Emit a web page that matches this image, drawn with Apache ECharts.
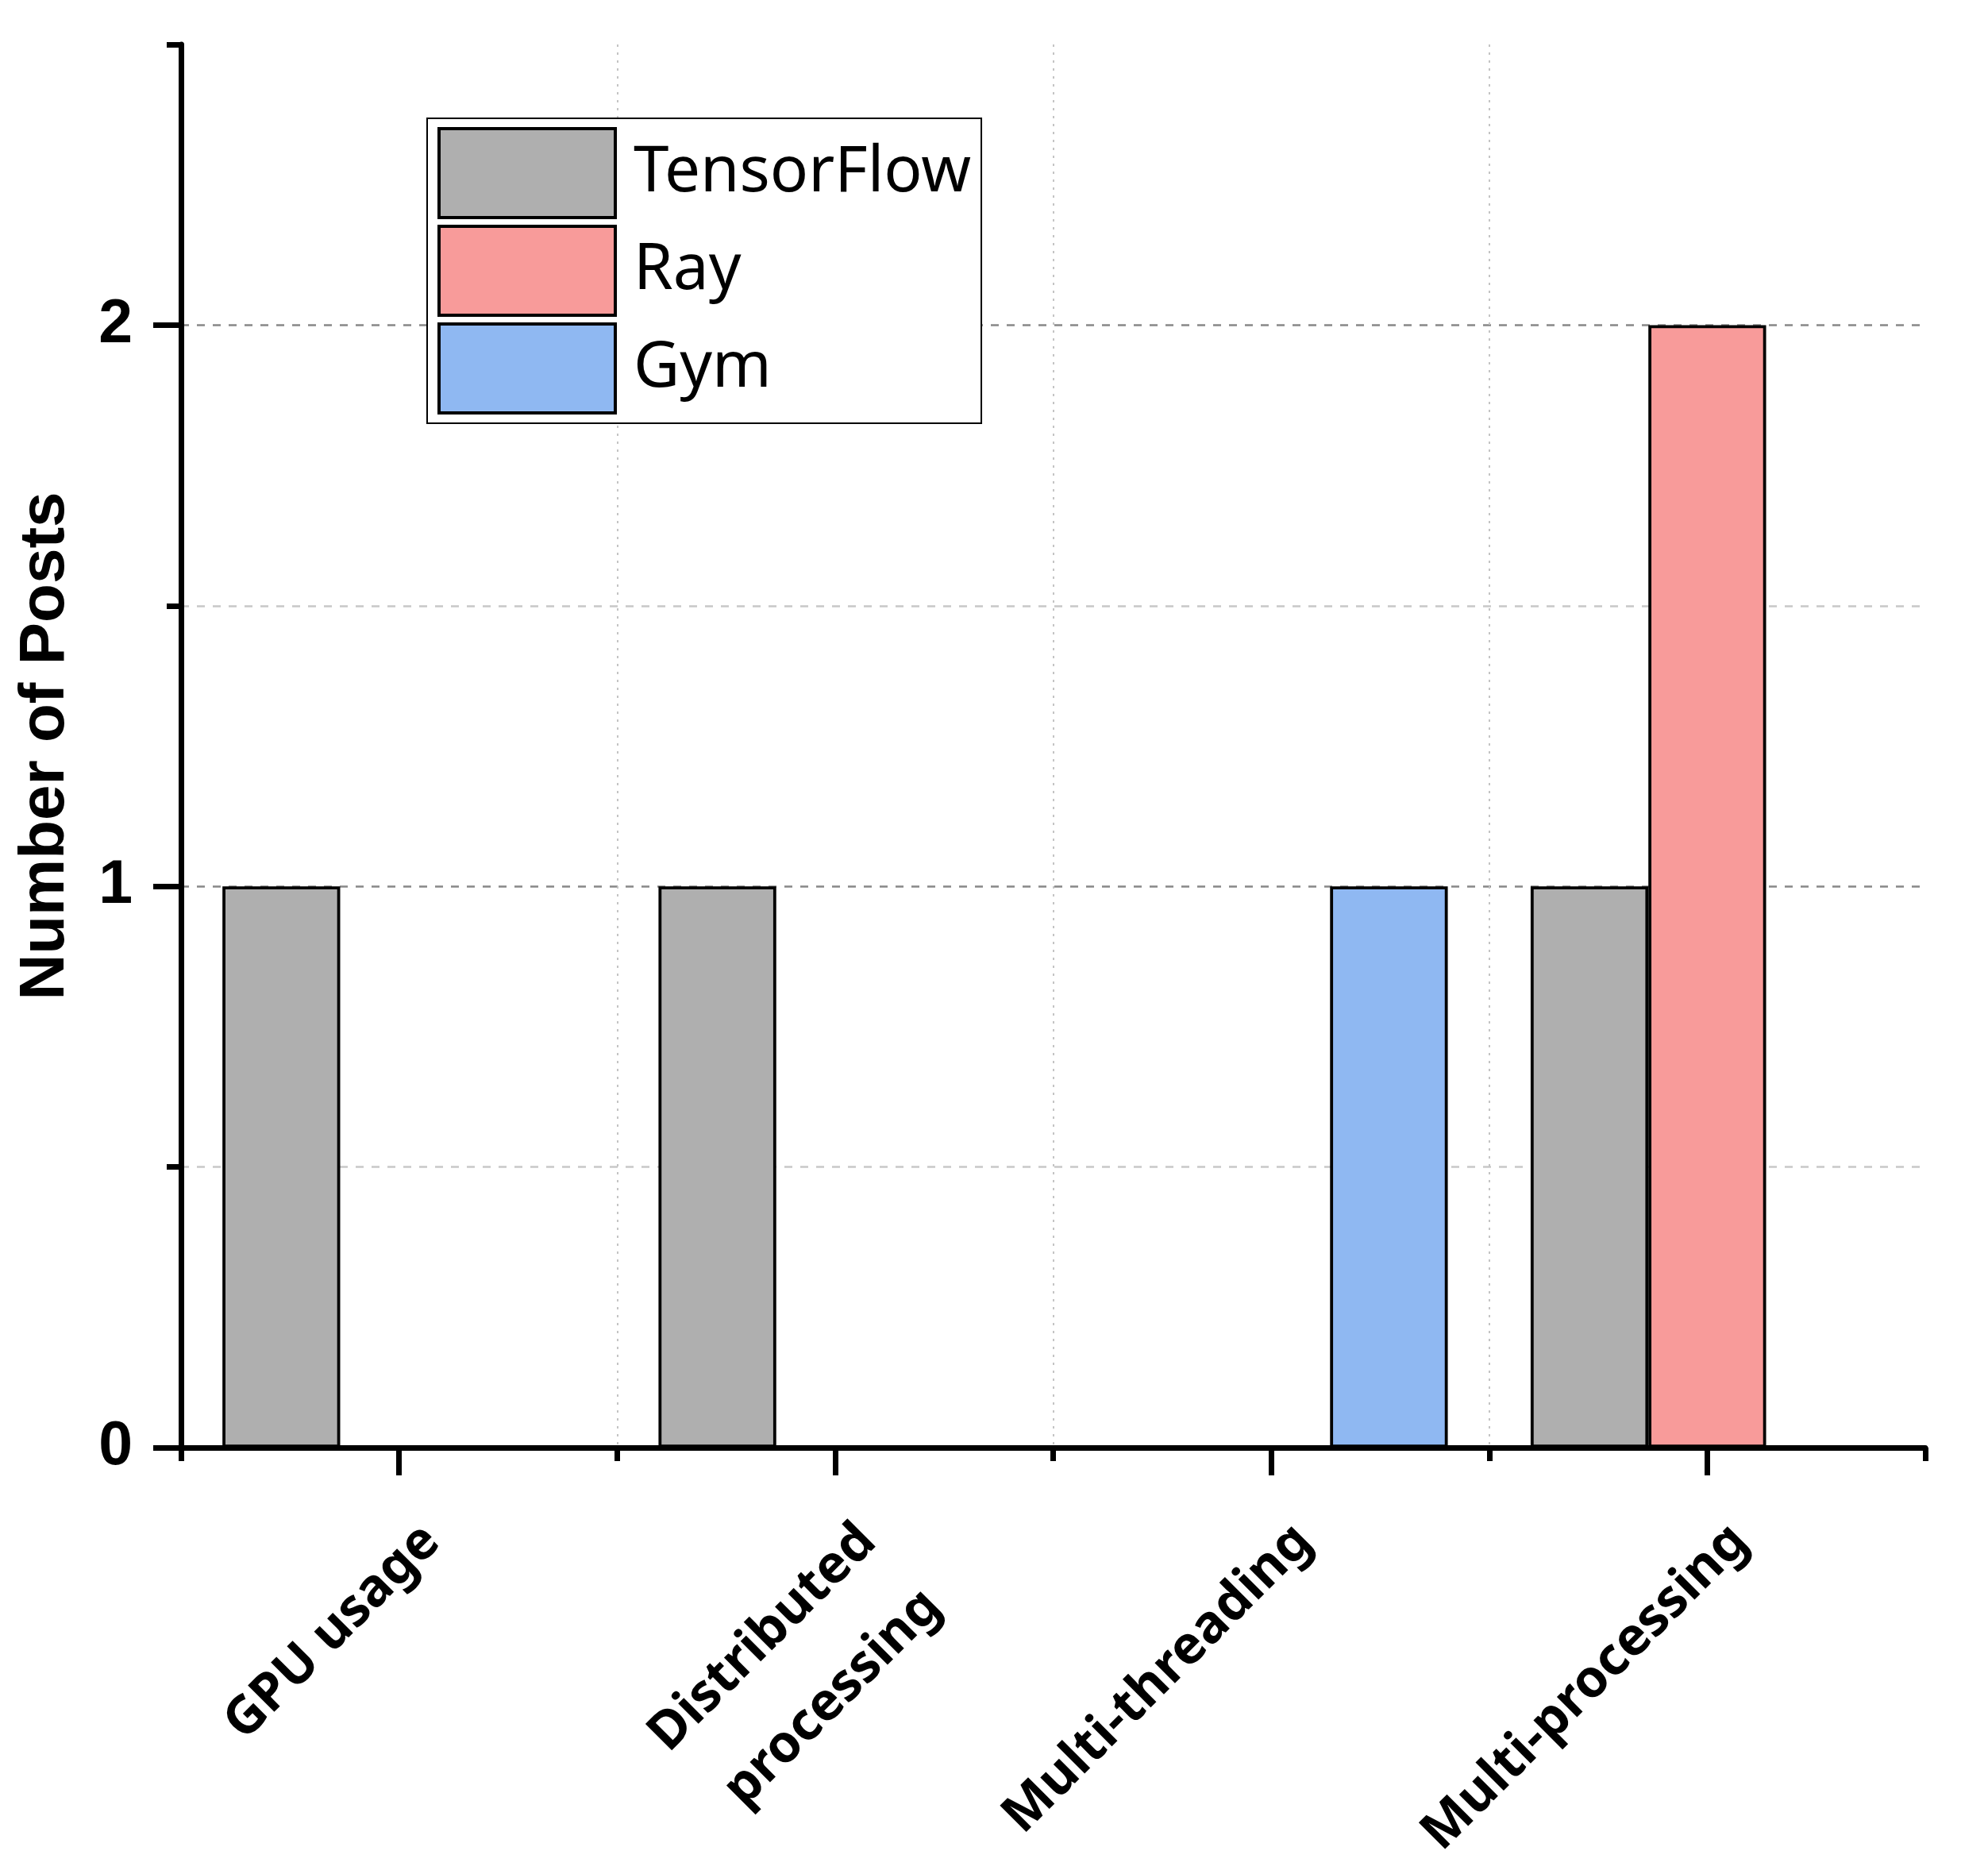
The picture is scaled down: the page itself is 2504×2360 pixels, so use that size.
<!DOCTYPE html>
<html>
<head>
<meta charset="utf-8">
<script src="https://cdn.jsdelivr.net/npm/echarts@6/dist/echarts.min.js"></script>
<style>
  html, body { margin: 0; padding: 0; background: #ffffff; }
  #chart { width: 2504px; height: 2360px; }
</style>
</head>
<body>
<div id="chart"></div>
<script>
const categories = ['GPU usage', 'Distributed\nprocessing', 'Multi-threading', 'Multi-processing'];
const seriesNames = ['TensorFlow', 'Ray', 'Gym'];
const tensorflowPosts = [1, 1, 0, 1];
const rayPosts = [0, 0, 0, 2];
const gymPosts = [0, 0, 1, 0];
const yTickLabels = [0, 1, 2];
const colors = ['#afafaf', '#f89b9a', '#8fb8f2'];

const chart = echarts.init(document.getElementById('chart'), null, { renderer: 'canvas' });

const barStyle = (c) => ({ color: c, borderColor: '#000', borderWidth: 3.8 });

// Two blank lines before each label push the first text line outward, perpendicular to the text.
const formatCategory = (v) => ' \n \n' + (v.indexOf('\n') >= 0 ? v : v + '\n ');

const option = {
  backgroundColor: '#ffffff',
  animation: false,
  grid: { left: 228, right: 79, top: 56, bottom: 537, outerBoundsMode: 'none', containLabel: false },
  legend: {
    orient: 'vertical',
    left: 538,
    top: 149,
    padding: [11, 13, 11, 13],
    itemWidth: 222,
    itemHeight: 112,
    itemGap: 7,
    icon: 'rect',
    backgroundColor: '#ffffff',
    borderColor: '#000',
    borderWidth: 2,
    itemStyle: { borderColor: '#000', borderWidth: 4 },
    textStyle: { fontFamily: 'Noto Sans', fontSize: 80, color: '#000', padding: [16, 0, 0, 18] },
    data: seriesNames
  },
  xAxis: [
    {
      type: 'category',
      data: categories,
      axisLine: { show: true, lineStyle: { color: '#000', width: 7 } },
      axisTick: { show: true, length: 17, lineStyle: { color: '#000', width: 7 } },
      axisLabel: {
        interval: 0,
        rotate: 45,
        margin: 67,
        lineHeight: 116,
        fontFamily: 'Noto Sans',
        fontWeight: 'bold',
        fontSize: 66,
        color: '#000',
        formatter: formatCategory
      },
      splitLine: {
        show: true,
        lineStyle: { color: ['transparent', '#c4c4c4', '#c4c4c4', '#c4c4c4', 'transparent'], type: [3, 7], width: 2 }
      }
    },
    {
      type: 'category',
      data: categories,
      position: 'bottom',
      axisLine: { show: false },
      axisTick: { show: true, alignWithLabel: true, length: 35, lineStyle: { color: '#000', width: 7 } },
      axisLabel: { show: false },
      splitLine: { show: false }
    }
  ],
  yAxis: [
    {
      type: 'value',
      min: 0,
      max: 2.5,
      interval: 0.5,
      name: 'Number of Posts',
      nameLocation: 'middle',
      nameRotate: 90,
      nameGap: 130,
      nameTextStyle: { fontFamily: 'Liberation Sans', fontWeight: 'bold', fontSize: 80, color: '#000' },
      axisLine: { show: true, lineStyle: { color: '#000', width: 7 } },
      axisTick: { show: true, length: 18, lineStyle: { color: '#000', width: 7 } },
      axisLabel: {
        margin: 61,
        fontFamily: 'Liberation Sans',
        fontWeight: 'bold',
        fontSize: 77,
        color: '#000',
        formatter: (v) => (yTickLabels.indexOf(v) >= 0 ? String(v) : '')
      },
      splitLine: {
        show: true,
        lineStyle: { color: ['transparent', '#c8c8c8', '#888888', '#c8c8c8', '#888888', 'transparent'], type: [10, 10], width: 2.5 }
      }
    },
    {
      type: 'value',
      min: 0,
      max: 2.5,
      interval: 0.5,
      position: 'left',
      axisLine: { show: false },
      axisTick: { show: true, customValues: yTickLabels, length: 35, lineStyle: { color: '#000', width: 7 } },
      axisLabel: { show: false },
      splitLine: { show: false }
    }
  ],
  series: [
    { name: seriesNames[0], type: 'bar', xAxisIndex: 0, yAxisIndex: 0, data: tensorflowPosts, itemStyle: barStyle(colors[0]), barGap: '0%', barCategoryGap: '19%' },
    { name: seriesNames[1], type: 'bar', xAxisIndex: 0, yAxisIndex: 0, data: rayPosts, itemStyle: barStyle(colors[1]), barGap: '0%', barCategoryGap: '19%' },
    { name: seriesNames[2], type: 'bar', xAxisIndex: 0, yAxisIndex: 0, data: gymPosts, itemStyle: barStyle(colors[2]), barGap: '0%', barCategoryGap: '19%' }
  ]
};

chart.setOption(option);
</script>
</body>
</html>
